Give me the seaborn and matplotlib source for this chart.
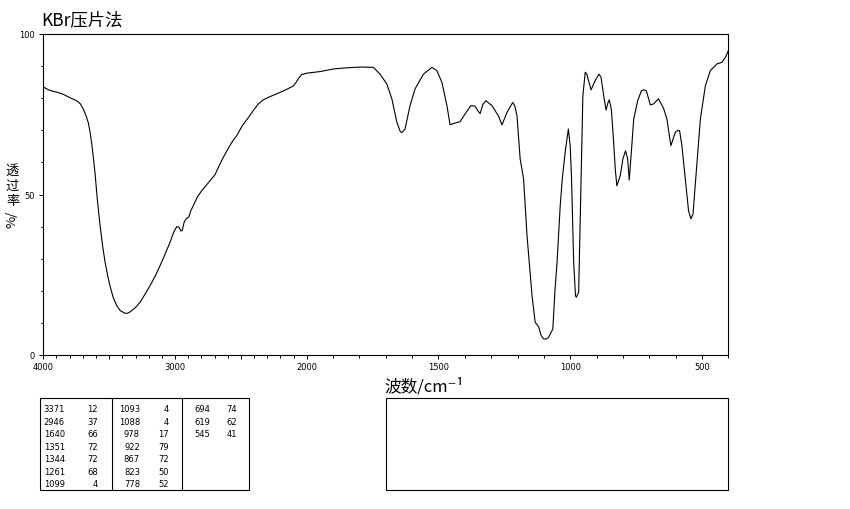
import numpy as np
import pandas as pd
import matplotlib
matplotlib.use("Agg")
import matplotlib.pyplot as plt
import seaborn as sns
from matplotlib.patches import Rectangle
from matplotlib.ticker import FixedLocator, MultipleLocator, FuncFormatter

# spectrum (cm-1, %T)
wavenumber = [
    4000, 3960, 3930, 3898, 3870, 3848, 3800, 3746, 3720, 3696, 3675, 3658,
    3645, 3633, 3620, 3607, 3590, 3569, 3550, 3531, 3510, 3494, 3470, 3443,
    3415, 3380, 3360, 3342, 3300, 3266, 3230, 3190, 3150, 3114, 3075, 3038,
    3010, 2987, 2970, 2955, 2945, 2930, 2911, 2895, 2880, 2861, 2830, 2797,
    2750, 2720, 2696, 2665, 2633, 2590, 2560, 2532, 2490, 2443, 2400, 2368,
    2330, 2279, 2220, 2160, 2102, 2080, 2060, 2040, 2000,
    1949, 1899, 1860, 1823, 1790, 1747, 1722, 1696, 1677, 1658, 1645, 1639,
    1627, 1608, 1589, 1557, 1525, 1506, 1487, 1468, 1456, 1440, 1418, 1399,
    1377, 1361, 1350, 1342, 1332, 1320, 1297, 1272, 1259, 1240, 1218, 1210,
    1202, 1190, 1177, 1164, 1145, 1133, 1120, 1110, 1101, 1090, 1082, 1066,
    1058, 1050, 1038, 1030, 1018, 1007, 1000, 995, 987, 980, 977, 968, 959,
    952, 943, 937, 921, 905, 891, 883, 873, 864, 857, 852, 844, 836, 829,
    823, 810, 800, 790, 782, 776, 769, 759, 744, 730, 721, 711, 696, 684,
    665, 646, 633, 618, 601, 590, 585, 576, 563, 551, 542, 534, 519, 506,
    487, 468, 443, 424, 411, 400,
]
transmittance = [
    83.5, 82.6, 82.2, 81.9, 81.5, 81.2, 80.2, 79.2, 78.3, 76.6, 74.5, 72.3,
    69.5, 66.0, 61.5, 56.5, 48.5, 40.3, 34.0, 28.9, 24.5, 21.6, 18.0, 15.4,
    13.8, 13.0, 13.0, 13.4, 14.8, 16.4, 18.8, 21.6, 24.6, 27.8, 31.5, 35.1,
    38.3, 40.0, 39.8, 38.6, 38.8, 41.5, 42.6, 43.0, 45.0, 46.5, 49.3, 51.2,
    53.5, 55.0, 56.2, 59.0, 61.6, 64.8, 66.8, 68.3, 71.4, 74.0, 76.5, 78.2,
    79.5, 80.5, 81.5, 82.6, 83.8, 85.0, 86.3, 87.3, 87.8,
    88.3, 89.1, 89.4, 89.6, 89.7, 89.6, 87.5, 84.4, 79.8, 72.5, 69.6, 69.3,
    70.4, 77.7, 82.9, 87.5, 89.6, 88.6, 84.9, 77.7, 71.7, 72.2, 72.7, 75.1,
    77.7, 77.5, 76.0, 75.2, 78.0, 79.2, 77.7, 74.4, 71.7, 75.6, 78.7, 77.5,
    74.5, 61.1, 54.8, 37.2, 18.5, 10.2, 8.8, 6.0, 5.0, 5.0, 5.5, 8.1,
    20.0, 28.9, 46.5, 55.0, 64.0, 70.4, 65.0, 55.0, 28.9, 18.5, 18.0, 19.5, 54.8,
    80.8, 88.1, 87.5, 82.6, 85.5, 87.5, 86.5, 80.8, 76.3, 78.5, 79.5, 76.6, 67.3, 57.9,
    52.7, 55.9, 61.1, 63.6, 61.1, 54.5, 62.1, 73.5, 79.2, 82.3, 82.6, 82.3, 77.9, 78.2,
    79.8, 76.9, 73.5, 65.2, 69.4, 70.0, 69.9, 65.2, 54.8, 45.0, 42.4, 43.9, 60.0, 73.5,
    83.9, 88.6, 90.7, 91.2, 92.7, 94.8,
]

# peak table under the chart
peak_wn = [3371, 2946, 1640, 1351, 1344, 1261, 1099,
           1093, 1088, 978, 922, 867, 823, 778,
           694, 619, 545]
peak_t = [12, 37, 66, 72, 72, 68, 4,
          4, 4, 17, 79, 72, 50, 52,
          74, 62, 41]

x_ticks = [4000, 3500, 3000, 2500, 2000, 1500, 1000, 500]
x_labeled = [4000, 3000, 2000, 1500, 1000, 500]
y_ticks = [0, 50, 100]

sns.set_style("ticks")
plt.rcParams["font.family"] = ["Noto Sans CJK SC", "DejaVu Sans"]
plt.rcParams["text.color"] = "black"

W, H = 850, 510
fig = plt.figure(figsize=(W / 100, H / 100), dpi=100)
ax = fig.add_axes([43.3 / W, 1 - 356 / H, (728.3 - 43.3) / W, (356 - 35) / H])


# 4000-2000 drawn at half scale, as on the instrument print
def fwd(w):
    w = np.asarray(w, dtype=float)
    return np.where(w > 2000, 2000 + (w - 2000) / 2, w)


def inv(u):
    u = np.asarray(u, dtype=float)
    return np.where(u > 2000, 2000 + (u - 2000) * 2, u)


df = pd.DataFrame({"wn": wavenumber, "T": transmittance})
sns.lineplot(data=df, x="wn", y="T", ax=ax, color="black", lw=0.8,
             sort=False, estimator=None)
ax.set_xscale("function", functions=(fwd, inv))
ax.set_xlim(4000, 400)
ax.set_ylim(0, 100)
ax.set_xlabel("")
ax.set_ylabel("")

ax.xaxis.set_major_locator(FixedLocator(x_ticks))
ax.xaxis.set_minor_locator(FixedLocator(range(400, 4001, 100)))
ax.xaxis.set_major_formatter(FuncFormatter(lambda v, p: f"{v:.0f}" if round(v) in x_labeled else ""))
ax.yaxis.set_major_locator(FixedLocator(y_ticks))
ax.yaxis.set_minor_locator(MultipleLocator(10))
ax.tick_params(which="major", direction="out", length=3.2, width=0.7, colors="black",
               labelsize=6, pad=1.5)
ax.tick_params(which="minor", direction="out", length=1.8, width=0.7, colors="black")
ax.tick_params(axis="y", which="major", pad=3)
for lab in ax.get_xticklabels() + ax.get_yticklabels():
    lab.set_family("DejaVu Sans")
for s in ax.spines.values():
    s.set_color("black")
    s.set_linewidth(0.8)


def px(x, y):
    return x / W, 1 - y / H


fig.text(*px(41, 20), "KBr压片法", fontsize=12.5, ha="left", va="center")
fig.text(*px(384, 387), "波数/cm⁻¹", fontsize=12, ha="left", va="center")
for i, ch in enumerate("透过率"):
    fig.text(*px(12.5, 171.5 + 15 * i), ch, fontsize=9.5, ha="center", va="center")
fig.text(*px(12.5, 219), "%/", fontsize=9.5, rotation=90, ha="center", va="center")

# peak list boxes
tab = fig.add_axes([0, 0, 1, 1])
tab.set_xlim(0, W)
tab.set_ylim(H, 0)
tab.axis("off")
tab.add_patch(Rectangle((40, 399), 209, 92, fill=False, lw=0.8, ec="black"))
tab.add_patch(Rectangle((386, 399), 342, 92, fill=False, lw=0.8, ec="black"))
for xv in (112, 182):
    tab.plot([xv, xv], [399, 491], color="black", lw=0.8)

col_right = [(65, 98), (140, 169), (210, 237)]
for i, (w, t) in enumerate(zip(peak_wn, peak_t)):
    c, r = divmod(i, 7)
    yy = 409.5 + 12.55 * r
    tab.text(col_right[c][0], yy, str(w), ha="right", va="center", fontsize=6,
             family="DejaVu Sans", color="black")
    tab.text(col_right[c][1], yy, str(t), ha="right", va="center", fontsize=6,
             family="DejaVu Sans", color="black")

fig.savefig("out.png", dpi=100, facecolor="white")
